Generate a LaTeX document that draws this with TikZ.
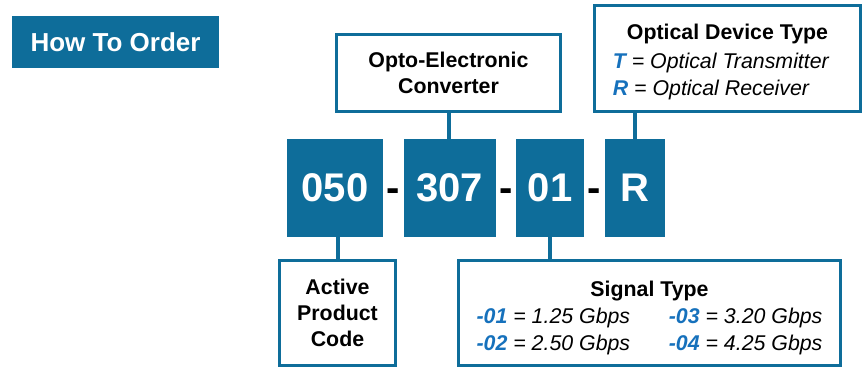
\documentclass[tikz,border=0pt]{standalone}
\usepackage{fontspec}
\setmainfont{Liberation Sans}
\usepackage{xcolor}
\usepackage{tikz}
\usetikzlibrary{positioning}
\definecolor{ordBlue}{RGB}{14,109,154}
\definecolor{keyBlue}{RGB}{22,113,188}
\tikzstyle{titlebox} = [rectangle, fill=ordBlue, text=white, inner sep=0pt, minimum width=155.25pt, minimum height=39pt, font=\fontsize{19.5}{23}\selectfont\bfseries]
\tikzstyle{codebox} = [rectangle, fill=ordBlue, text=white, inner sep=0pt, minimum height=73.5pt, font=\fontsize{30}{36}\selectfont\bfseries]
\tikzstyle{codesep} = [inner sep=0pt, anchor=base, font=\fontsize{30}{36}\selectfont\bfseries]
\tikzstyle{descbox} = [rectangle, draw=ordBlue, line width=2.25pt, fill=white, inner sep=0pt, align=center, font=\fontsize{16}{19.5}\selectfont]
\tikzstyle{link} = [draw=ordBlue, line width=3pt]
\newcommand{\keyval}[1]{\textcolor{keyBlue}{\bfseries\itshape #1}}

\begin{document}
\begin{tikzpicture}[x=0.75pt, y=-0.75pt]
    \useasboundingbox (0,0) rectangle (864,368);

    \node (howTo) [titlebox] at (115.5,42) {How To Order};

    \node (code050) [codebox, minimum width=72pt] at (335,188) {050};
    \node (code307) [codebox, minimum width=69pt, right=15pt of code050] {307};
    \node (code01) [codebox, minimum width=51pt, right=15pt of code307] {01};
    \node (codeR) [codebox, minimum width=45pt, right=15pt of code01] {R};

    \node (sep1) [codesep] at ([xshift=7.5pt]code050.east |- code050.base) {-};
    \node (sep2) [codesep] at ([xshift=7.5pt]code307.east |- code307.base) {-};
    \node (sep3) [codesep] at ([xshift=7.5pt]code01.east |- code01.base) {-};

    \node (optoConv) [descbox, minimum width=168pt, minimum height=57.75pt] at (448.5,73) {\bfseries Opto-Electronic\\\bfseries Converter};
    \node (devType) [descbox, minimum width=199.5pt, minimum height=79.5pt] at (727.5,58.5) {%
        \fontsize{16}{20}\selectfont
        \begin{tabular}{@{}l@{\hspace{10pt}}}
        \multicolumn{1}{@{}c@{}}{\rule{0pt}{19pt}\bfseries Optical Device Type}\\[2pt]
        \keyval{T} \itshape = Optical Transmitter\\
        \keyval{R} \itshape = Optical Receiver
        \end{tabular}};
    \node (prodCode) [descbox, minimum width=87pt, minimum height=78.75pt] at (337.5,313) {\bfseries Active\\\bfseries Product\\\bfseries Code};
    \node (sigType) [descbox, minimum width=286.5pt, minimum height=78.75pt] at (649.5,313) {%
        \fontsize{16}{20}\selectfont
        \begin{tabular}{@{}l@{\hspace{29pt}}l@{}}
        \multicolumn{2}{@{}c@{}}{\rule{0pt}{21.5pt}\bfseries Signal Type}\\
        \keyval{-01} \itshape = 1.25 Gbps & \keyval{-03} \itshape = 3.20 Gbps\\
        \keyval{-02} \itshape = 2.50 Gbps & \keyval{-04} \itshape = 4.25 Gbps
        \end{tabular}};

    \draw [link] (optoConv.south) -- (optoConv.south |- code307.north);
    \draw [link] (codeR.north) -- (codeR.north |- devType.south);
    \draw [link] (prodCode.north) -- (prodCode.north |- code050.south);
    \draw [link] (code01.south) -- (code01.south |- sigType.north);
\end{tikzpicture}
\end{document}
